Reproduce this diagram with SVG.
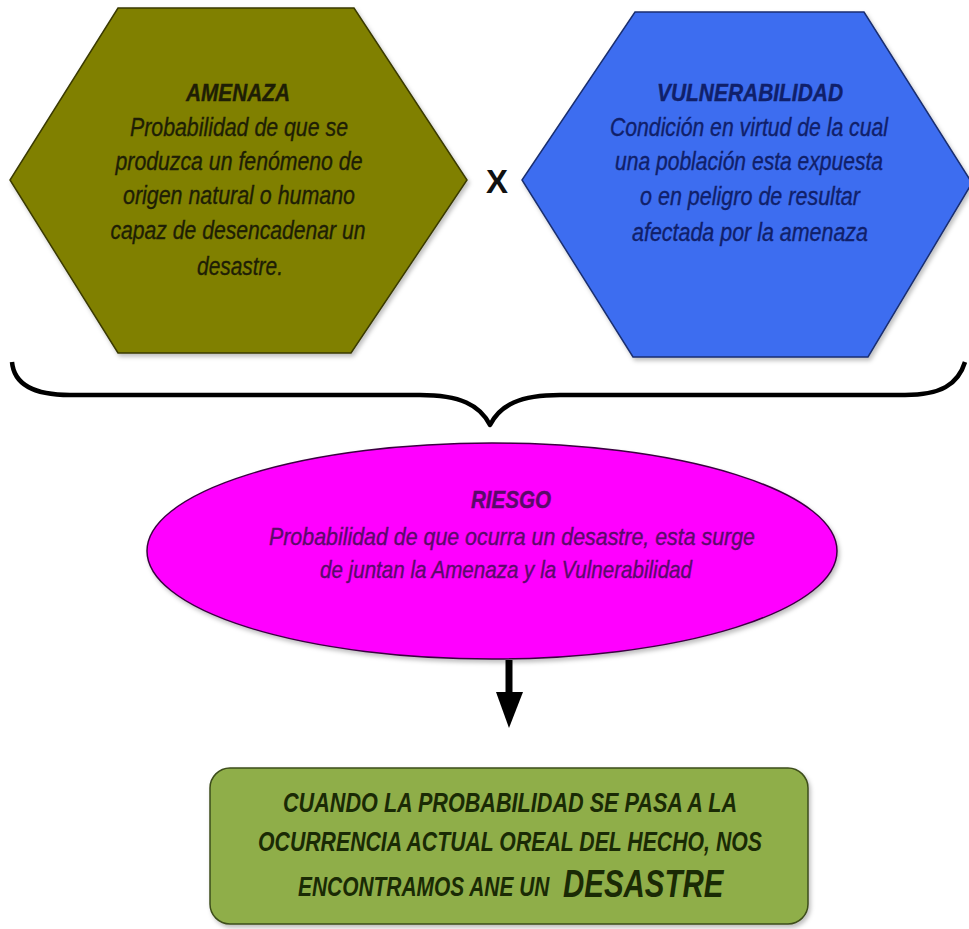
<svg xmlns="http://www.w3.org/2000/svg" width="969" height="929" viewBox="0 0 969 929">
<style>
.t{font-family:"Liberation Sans",Arial,sans-serif;font-style:italic;text-anchor:middle;stroke-width:0.35}
.h{font-weight:bold;font-size:23px}
.b{font-size:25px}
.g{font-size:27px;font-weight:bold;fill:#1a2a05}
</style>
<defs>
<filter id="sh" x="-5%" y="-5%" width="110%" height="115%"><feDropShadow dx="2" dy="3" stdDeviation="2" flood-color="#000" flood-opacity="0.25"/></filter>
</defs>
<rect width="969" height="929" fill="#fff"/>
<g id="amenaza">
<polygon points="118,8 354,8 467,180 351,353 118,353 10,180" fill="#808000" stroke="#3a3a00" stroke-width="1.5" filter="url(#sh)"/>
<g class="t" fill="#1e1e05" stroke="#1e1e05">
<text x="238" y="101" class="h" textLength="104" lengthAdjust="spacingAndGlyphs">AMENAZA</text>
<text x="239" y="136" class="b" textLength="218" lengthAdjust="spacingAndGlyphs">Probabilidad de que se</text>
<text x="239" y="170" class="b" textLength="247" lengthAdjust="spacingAndGlyphs">produzca un fenómeno de</text>
<text x="239" y="204" class="b" textLength="232" lengthAdjust="spacingAndGlyphs">origen natural o humano</text>
<text x="238" y="239" class="b" textLength="255" lengthAdjust="spacingAndGlyphs">capaz de desencadenar un</text>
<text x="240" y="275" class="b" textLength="86" lengthAdjust="spacingAndGlyphs">desastre.</text>
</g>
</g>
<g id="x-op">
<text x="497" y="193" font-family="Liberation Sans,Arial,sans-serif" font-weight="bold" font-size="34" text-anchor="middle" fill="#111" textLength="22" lengthAdjust="spacingAndGlyphs">X</text>
</g>
<g id="vulnerabilidad">
<polygon points="635,12 864,12 972,183 868,357 633,357 522,180" fill="#3d6df0" stroke="#1a2f70" stroke-width="1.5" filter="url(#sh)"/>
<g class="t" fill="#10206a" stroke="#10206a">
<text x="750" y="101" class="h" textLength="186" lengthAdjust="spacingAndGlyphs">VULNERABILIDAD</text>
<text x="749" y="136" class="b" textLength="278" lengthAdjust="spacingAndGlyphs">Condición en virtud de la cual</text>
<text x="749" y="170" class="b" textLength="268" lengthAdjust="spacingAndGlyphs">una población esta expuesta</text>
<text x="750" y="205" class="b" textLength="220" lengthAdjust="spacingAndGlyphs">o en peligro de resultar</text>
<text x="750" y="241" class="b" textLength="236" lengthAdjust="spacingAndGlyphs">afectada por la amenaza</text>
</g>
</g>
<g id="connectors">
<path d="M12,362 C14,385 35,395 70,395 L420,395 C460,395 480,405 490,425 C500,405 520,395 560,395 L905,395 C940,395 958,385 965,362" fill="none" stroke="#000" stroke-width="4.5" stroke-linejoin="round"/>
<line x1="509" y1="660" x2="509" y2="694" stroke="#000" stroke-width="7"/>
<polygon points="496,692 523,692 509,728" fill="#000"/>
</g>
<g id="riesgo">
<ellipse cx="492" cy="551" rx="345" ry="108" fill="#ff00ff" stroke="#3a0040" stroke-width="1.5" filter="url(#sh)"/>
<g class="t" fill="#5a0a6a" stroke="#5a0a6a">
<text x="511" y="508" class="h" textLength="80" lengthAdjust="spacingAndGlyphs">RIESGO</text>
<text x="512" y="545" class="b" style="font-size:24px" textLength="486" lengthAdjust="spacingAndGlyphs">Probabilidad de que ocurra un desastre, esta surge</text>
<text x="506" y="578" class="b" style="font-size:24px" textLength="372" lengthAdjust="spacingAndGlyphs">de juntan la Amenaza y la Vulnerabilidad</text>
</g>
</g>
<g id="desastre">
<rect x="210" y="768" width="598" height="156" rx="20" ry="20" fill="#8fae48" stroke="#3d4d1a" stroke-width="1.5" filter="url(#sh)"/>
<g class="t">
<text x="510" y="812" class="g" textLength="454" lengthAdjust="spacingAndGlyphs">CUANDO LA PROBABILIDAD SE PASA A LA</text>
<text x="510" y="851" class="g" textLength="504" lengthAdjust="spacingAndGlyphs">OCURRENCIA ACTUAL OREAL DEL HECHO, NOS</text>
<text x="0" y="0" class="g" style="text-anchor:start" transform="translate(298,896) scale(0.775,1)">ENCONTRAMOS ANE UN</text>
<text x="0" y="0" class="g" style="text-anchor:start;font-size:38px" transform="translate(563,897) scale(0.775,1)">DESASTRE</text>
</g>
</g>
</svg>
